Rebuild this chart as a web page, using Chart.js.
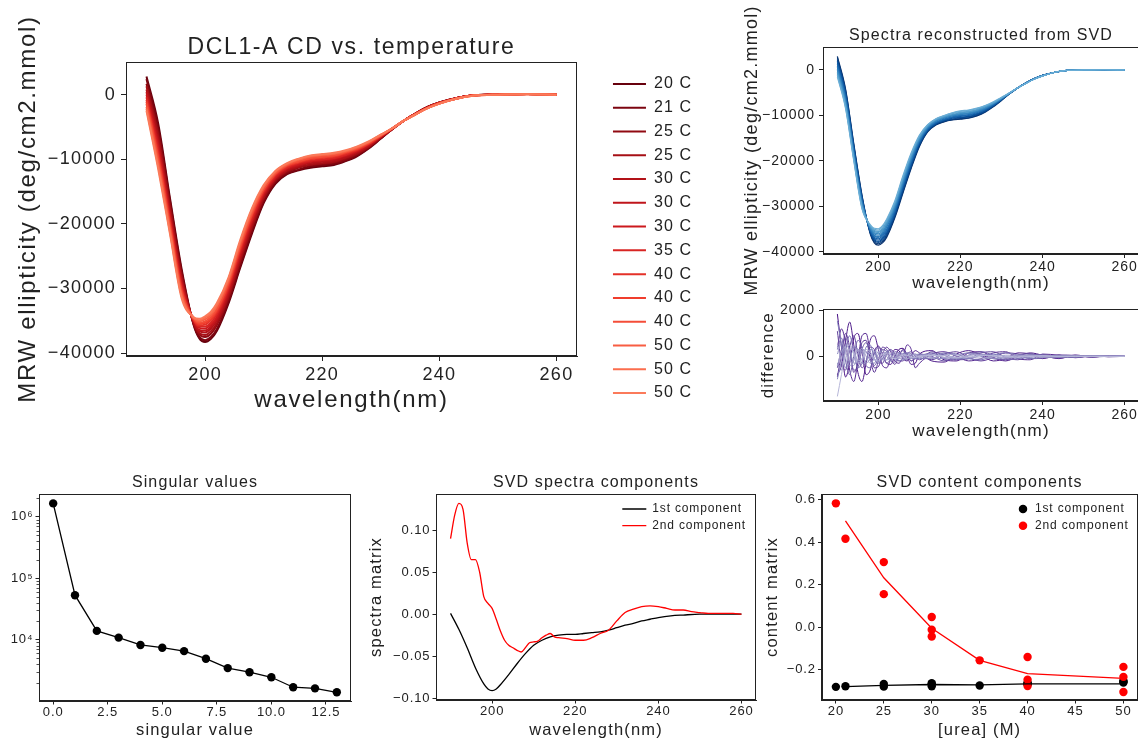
<!DOCTYPE html>
<html lang="en">
<head>
<meta charset="utf-8">
<title>DCL1-A CD vs. temperature</title>
<script src="https://cdn.jsdelivr.net/npm/chart.js@4.4.1/dist/chart.umd.min.js"></script>
<style>
  html, body { margin: 0; padding: 0; background: #ffffff; }
  body { position: relative; width: 1138px; height: 739px; overflow: hidden; }
  canvas { position: absolute; }
</style>
</head>
<body>
<canvas id="cdTemperature"></canvas>
<canvas id="svdReconstruction"></canvas>
<canvas id="svdResidual"></canvas>
<canvas id="singularValues"></canvas>
<canvas id="spectraComponents"></canvas>
<canvas id="contentComponents"></canvas>
<script>
// ---------------- data ----------------
const wavelengths = [190,192,194,196,198,199,200,201,202,204,206,208,210,212,214,216,218,220,222,224,226,228,230,232,234,236,238,240,243,246,250,255,260];
const temperatures = [20,21,25,25,30,30,30,35,40,40,40,50,50,50];

// measured mean-residue-weight ellipticity, one row per temperature
const measuredSpectra = [
  [2800,-4500,-16000,-27000,-35500,-37700,-38300,-37800,-36600,-32300,-26800,-21500,-16800,-13800,-12300,-11700,-11300,-11100,-10900,-10300,-9500,-8300,-6800,-5300,-4000,-2900,-1900,-1200,-500,-100,50,100,0],
  [2400,-5100,-16400,-27400,-35400,-37500,-38000,-37500,-36300,-32000,-26500,-21200,-16600,-13600,-12200,-11600,-11100,-10900,-10700,-10200,-9400,-8200,-6800,-5300,-4000,-2900,-1900,-1200,-500,-100,50,100,0],
  [1700,-5900,-17100,-27900,-35300,-37100,-37500,-37000,-35700,-31500,-25900,-20700,-16200,-13400,-12000,-11300,-10900,-10700,-10500,-10000,-9200,-8100,-6700,-5300,-4000,-2900,-1900,-1200,-500,-100,50,100,0],
  [1300,-6500,-17500,-28300,-35200,-36900,-37200,-36600,-35400,-31200,-25600,-20400,-16000,-13200,-11800,-11200,-10800,-10600,-10400,-9800,-9100,-8000,-6600,-5300,-4000,-2900,-1900,-1300,-500,-100,50,100,0],
  [800,-7200,-18100,-28700,-35100,-36600,-36800,-36200,-35000,-30800,-25200,-20000,-15700,-13000,-11700,-11000,-10600,-10400,-10200,-9700,-8900,-7900,-6600,-5300,-4000,-2900,-2000,-1300,-500,-100,0,100,0],
  [400,-7700,-18500,-29000,-35000,-36400,-36500,-35900,-34700,-30500,-24900,-19700,-15500,-12900,-11500,-10900,-10400,-10200,-10000,-9500,-8800,-7800,-6500,-5300,-4000,-2900,-2000,-1300,-500,-100,0,100,0],
  [0,-8100,-18900,-29300,-34900,-36100,-36200,-35600,-34400,-30200,-24600,-19500,-15300,-12800,-11400,-10800,-10300,-10100,-9900,-9400,-8700,-7700,-6500,-5200,-4000,-2900,-2000,-1300,-500,-100,0,100,0],
  [-400,-8700,-19300,-29700,-34800,-35900,-35900,-35300,-34000,-29900,-24200,-19200,-15100,-12600,-11300,-10600,-10200,-10000,-9800,-9300,-8600,-7600,-6400,-5200,-4000,-2900,-2000,-1300,-600,-100,0,100,0],
  [-800,-9300,-19700,-30100,-34800,-35700,-35600,-34900,-33700,-29600,-23900,-18800,-14900,-12400,-11100,-10500,-10000,-9800,-9600,-9100,-8500,-7600,-6400,-5200,-4000,-3000,-2000,-1300,-600,-100,0,100,0],
  [-1100,-9700,-20100,-30300,-34700,-35500,-35300,-34700,-33400,-29300,-23600,-18600,-14700,-12300,-11000,-10400,-9900,-9700,-9500,-9000,-8400,-7500,-6400,-5200,-4000,-3000,-2000,-1300,-600,-100,0,100,0],
  [-1400,-10100,-20400,-30600,-34600,-35300,-35100,-34400,-33200,-29100,-23400,-18400,-14600,-12200,-10900,-10300,-9800,-9600,-9400,-8900,-8300,-7400,-6300,-5200,-4000,-3000,-2100,-1400,-600,-100,0,100,0],
  [-1900,-10700,-20800,-31000,-34500,-35100,-34800,-34100,-32800,-28800,-23000,-18100,-14300,-12000,-10800,-10100,-9600,-9400,-9200,-8800,-8200,-7300,-6300,-5200,-4000,-3000,-2100,-1400,-600,-150,0,50,0],
  [-2200,-11100,-21200,-31200,-34500,-34900,-34500,-33900,-32600,-28500,-22800,-17800,-14200,-11900,-10700,-10000,-9500,-9300,-9100,-8700,-8100,-7300,-6200,-5200,-4000,-3000,-2100,-1400,-600,-150,0,50,0],
  [-2500,-11500,-21500,-31500,-34400,-34700,-34300,-33600,-32300,-28300,-22500,-17600,-14000,-11800,-10600,-9900,-9400,-9200,-9000,-8600,-8000,-7200,-6200,-5200,-4000,-3000,-2100,-1400,-600,-150,0,50,0]
];

// spectra rebuilt from the first two SVD components
const reconstructedSpectra = [
  [3000,-4200,-16200,-27500,-36000,-38000,-38500,-38000,-36800,-32500,-27000,-21600,-16800,-13600,-12100,-11400,-11000,-10800,-10600,-10100,-9300,-8100,-6700,-5200,-3900,-2800,-1900,-1200,-500,-100,0,50,0],
  [2700,-4500,-16500,-27700,-35800,-37800,-38200,-37700,-36500,-32200,-26700,-21300,-16600,-13500,-12000,-11300,-10900,-10700,-10500,-10000,-9200,-8000,-6600,-5200,-3900,-2800,-1900,-1200,-500,-100,0,50,0],
  [2300,-4900,-16800,-28000,-35700,-37500,-37900,-37400,-36200,-31900,-26400,-21100,-16400,-13400,-11900,-11200,-10800,-10500,-10300,-9800,-9100,-7900,-6600,-5200,-3900,-2800,-1900,-1200,-500,-100,0,50,0],
  [2000,-5200,-17100,-28200,-35500,-37300,-37700,-37100,-35900,-31600,-26100,-20800,-16200,-13200,-11800,-11100,-10600,-10400,-10200,-9700,-9000,-7800,-6500,-5200,-3900,-2800,-1900,-1200,-500,-100,0,50,0],
  [1600,-5500,-17400,-28400,-35400,-37000,-37400,-36800,-35600,-31400,-25800,-20600,-16000,-13100,-11700,-11000,-10500,-10200,-10000,-9600,-8800,-7800,-6500,-5100,-3900,-2800,-1900,-1200,-500,-100,0,50,0],
  [1300,-5900,-17700,-28700,-35200,-36800,-37100,-36500,-35300,-31100,-25500,-20300,-15800,-13000,-11600,-10900,-10400,-10100,-9900,-9400,-8700,-7700,-6400,-5100,-3900,-2800,-1900,-1200,-500,-100,0,50,0],
  [900,-6200,-18000,-28900,-35100,-36500,-36800,-36200,-35000,-30800,-25200,-20000,-15600,-12900,-11500,-10800,-10300,-10000,-9800,-9300,-8600,-7600,-6400,-5100,-3900,-2800,-1900,-1200,-500,-100,0,50,0],
  [600,-6500,-18200,-29100,-34900,-36300,-36600,-36000,-34600,-30500,-25000,-19800,-15500,-12700,-11300,-10600,-10100,-9800,-9600,-9200,-8500,-7500,-6300,-5100,-3900,-2900,-2000,-1300,-500,-100,0,50,0],
  [200,-6800,-18500,-29300,-34800,-36000,-36300,-35700,-34300,-30200,-24700,-19500,-15300,-12600,-11200,-10500,-10000,-9700,-9500,-9100,-8400,-7400,-6300,-5100,-3900,-2900,-2000,-1300,-500,-100,0,50,0],
  [-100,-7200,-18800,-29600,-34600,-35800,-36000,-35400,-34000,-29900,-24400,-19200,-15100,-12500,-11100,-10400,-9900,-9600,-9400,-8900,-8300,-7300,-6200,-5100,-3900,-2900,-2000,-1300,-500,-100,0,50,0],
  [-500,-7500,-19100,-29800,-34500,-35500,-35700,-35100,-33700,-29700,-24100,-19000,-14900,-12400,-11000,-10300,-9800,-9400,-9200,-8800,-8100,-7300,-6200,-5000,-3900,-2900,-2000,-1300,-500,-100,0,50,0],
  [-800,-7800,-19400,-30000,-34300,-35300,-35500,-34800,-33400,-29400,-23800,-18700,-14700,-12200,-10900,-10200,-9600,-9300,-9100,-8700,-8000,-7200,-6100,-5000,-3900,-2900,-2000,-1300,-500,-100,0,50,0],
  [-1200,-8200,-19700,-30300,-34200,-35000,-35200,-34500,-33100,-29100,-23500,-18500,-14500,-12100,-10800,-10100,-9500,-9100,-8900,-8500,-7900,-7100,-6100,-5000,-3900,-2900,-2000,-1300,-500,-100,0,50,0],
  [-1500,-8500,-20000,-30500,-34000,-34800,-34900,-34200,-32800,-28800,-23200,-18200,-14300,-12000,-10700,-10000,-9400,-9000,-8800,-8400,-7800,-7000,-6000,-5000,-3900,-2900,-2000,-1300,-500,-100,0,50,0]
];

// measured minus reconstructed
const residualWavelengths = [190,191,192,193,194,195,196,197,198,199,200,201,202,203,204,205,206,207,208,209,210,213,216,219,222,225,228,231,234,237,240,244,248,252,256,260];
const residualSpectra = [
  [1850,400,-900,-300,800,1000,200,-800,-600,200,450,100,-300,-350,0,300,350,0,-350,-300,100,250,-150,-200,150,200,-50,-200,0,150,50,-100,60,-40,30,0],
  [-800,-400,700,1500,500,-700,-1100,-300,700,900,300,-400,-500,-100,300,250,-100,-200,50,250,150,-200,-250,100,250,50,-200,-100,150,100,-100,50,-60,30,-20,0],
  [400,1200,600,-600,-1100,-200,900,1000,200,-500,-450,100,400,200,-200,-300,0,500,300,-500,-300,100,200,0,-200,-100,150,200,-100,-150,100,50,-40,0,20,0],
  [-900,100,1000,400,-700,-300,600,700,-100,-700,-200,400,300,-100,-350,0,300,100,-200,-100,50,-150,100,200,-50,-200,-50,150,100,-100,-80,60,40,-30,0,0],
  [1100,-300,-600,400,900,100,-500,-200,400,300,-200,-300,100,300,100,-200,-200,100,200,0,-150,200,50,-150,-100,150,200,-50,-150,50,80,-50,30,20,-10,0],
  [-500,300,800,200,-600,-500,300,600,100,-400,-100,300,200,-200,-250,100,250,0,-200,-50,100,0,-200,-50,150,100,-100,-150,50,120,0,-70,30,0,10,0],
  [300,800,-200,-800,0,700,400,-400,-500,100,400,100,-300,-100,200,150,-100,-150,50,100,50,150,-100,-150,50,200,50,-150,-100,80,60,-30,-50,30,0,0],
  [-300,-600,300,900,200,-500,-300,400,500,-100,-300,-100,200,250,0,-200,-100,150,100,-100,-100,-100,150,100,-100,-150,50,150,50,-100,-60,40,20,-20,10,0],
  [1550,500,-500,-200,400,300,-300,-200,300,200,-200,-100,200,100,-150,-100,100,150,-50,-100,0,100,100,-100,-100,50,100,0,-80,-50,40,30,-20,10,0,0],
  [-1000,-200,500,300,-300,-200,300,200,-200,-300,100,250,0,-200,-50,150,100,-100,-100,50,100,-50,-100,50,150,0,-100,-50,50,60,-20,-40,20,0,0,0],
  [100,600,200,-400,-200,300,200,-300,-100,200,150,-150,-150,100,150,-50,-150,0,100,50,-50,50,-50,-100,50,100,0,-80,-30,50,30,-20,0,10,0,0],
  [-400,200,400,-100,-400,100,350,0,-300,-100,200,100,-150,-100,100,100,-50,-100,0,80,30,-80,50,80,-30,-80,-30,50,50,-20,-40,10,20,0,0,0],
  [500,-200,-300,300,200,-200,-100,200,100,-150,-100,100,100,-50,-100,0,80,50,-50,-50,20,60,-40,-60,40,60,0,-40,-20,30,20,-10,0,0,0,0],
  [-1750,-800,200,500,100,-300,-100,300,200,-100,-200,0,150,50,-100,-50,50,50,-30,-40,0,40,30,-40,-30,30,40,0,-30,-10,20,0,-10,0,0,0]
];

const singularIndex = [0,1,2,3,4,5,6,7,8,9,10,11,12,13];
const singularValues = [1660000,53000,13900,10800,8200,7400,6500,4900,3440,2950,2440,1680,1610,1390];

// first SVD spectrum sampled on `wavelengths`, second on its own finer grid
const firstComponent = [0.001,-0.018,-0.040,-0.064,-0.083,-0.089,-0.091,-0.089,-0.084,-0.072,-0.059,-0.047,-0.037,-0.031,-0.027,-0.025,-0.024,-0.024,-0.023,-0.022,-0.021,-0.019,-0.016,-0.013,-0.011,-0.008,-0.006,-0.004,-0.002,-0.001,0,0,0];
const componentWavelengths = [190,191,192,193,194,195,196,197,198,199,200,201,202,203,204,205,206,207,208,209,210,211,212,213,214,215,216,218,220,222,224,226,228,230,232,234,236,238,240,242,244,246,248,250,252,254,256,258,260];
const secondComponent = [0.090,0.118,0.132,0.125,0.085,0.065,0.065,0.050,0.021,0.013,0.007,-0.006,-0.020,-0.031,-0.037,-0.040,-0.043,-0.045,-0.040,-0.034,-0.033,-0.032,-0.028,-0.025,-0.023,-0.027,-0.028,-0.029,-0.031,-0.031,-0.028,-0.023,-0.019,-0.008,0.002,0.006,0.009,0.010,0.009,0.007,0.005,0.005,0.003,0.002,0.001,0.001,0.001,0.001,0.0];

// content (temperature) vectors and their trend lines
const firstContent = [-0.282,-0.279,-0.268,-0.281,-0.265,-0.270,-0.279,-0.276,-0.262,-0.268,-0.270,-0.254,-0.258,-0.262];
const secondContent = [0.583,0.416,0.306,0.155,0.047,-0.013,-0.045,-0.157,-0.141,-0.248,-0.278,-0.188,-0.235,-0.306];
const fitTemperatures = [21,25,30,35,40,50];
const firstContentFit = [-0.281,-0.275,-0.271,-0.273,-0.268,-0.268];
const secondContentFit = [0.500,0.232,-0.006,-0.157,-0.220,-0.242];

// tick values
const wavelengthTicks = [200,220,240,260];
const ellipticityTicks = [-40000,-30000,-20000,-10000,0];
const residualTicks = [0,2000];
const singularIndexTicks = [0,2.5,5,7.5,10,12.5];
const singularValueTicks = [1e4,1e5,1e6];
const singularMinorTicks = [2e3,3e3,4e3,5e3,6e3,7e3,8e3,9e3,2e4,3e4,4e4,5e4,6e4,7e4,8e4,9e4,2e5,3e5,4e5,5e5,6e5,7e5,8e5,9e5,2e6];
const componentTicks = [-0.1,-0.05,0,0.05,0.1];
const ureaTicks = [20,25,30,35,40,45,50];
const contentTicks = [-0.2,0,0.2,0.4,0.6];

// ---------------- styling ----------------
const INK = '#222222';
const redShades = ['#67000d','#7c0510','#910a12','#a60f15','#b21218','#bf151b','#cc191d','#d82523','#e43128','#f03d2d','#f44d38','#f85d42','#fb6d4d','#fb7a5a'];
const blueShades = ['#08306b','#083a7a','#084489','#084e98','#0e58a2','#1662aa','#1d6cb1','#2676b8','#3080bd','#3a8ac2','#4594c7','#529dcc','#5fa6d1','#6baed6'];
const purpleShades = ['#470f84','#4f1d8a','#562a91','#5d3897','#65479e','#6c55a5','#7464ad','#7b73b5','#8380bc','#8d8ac0','#9894c5','#a29eca','#acaad1','#b6b6d8'];

Chart.defaults.font.family = "'Liberation Sans', Arial, Helvetica, sans-serif";
Chart.defaults.font.size = 13;
Chart.defaults.color = INK;

const MINUS = '\u2212';
const SUPERSCRIPT = '\u2070\u00b9\u00b2\u00b3\u2074\u2075\u2076\u2077\u2078\u2079';
const fixed = d => v => (v < 0 ? MINUS : '') + Math.abs(v).toFixed(d);
const powerOfTen = v => '10' + String(Math.round(Math.log10(v))).split('').map(c => SUPERSCRIPT[+c]).join('');
const pts = (xs, ys) => xs.map((x, i) => ({ x, y: ys[i] }));

// slightly open letter spacing, proportional to the font size in use
function tracking(ctx, em) {
  const fill = ctx.fillText.bind(ctx);
  const measure = ctx.measureText.bind(ctx);
  const apply = () => {
    const m = /(\d+(?:\.\d+)?)px/.exec(ctx.font);
    ctx.letterSpacing = m ? (parseFloat(m[1]) * em).toFixed(2) + 'px' : '0px';
  };
  ctx.fillText = (...a) => { apply(); return fill(...a); };
  ctx.measureText = (t) => { apply(); return measure(t); };
}

// closed box round the plot area
const framePlugin = {
  id: 'frame',
  afterDatasetsDraw(chart) {
    const { ctx, chartArea: a } = chart;
    ctx.save();
    ctx.strokeStyle = INK;
    ctx.lineWidth = 1;
    const l = Math.round(a.left) + 0.5, t = Math.round(a.top) + 0.5;
    const r = Math.round(a.right) - 0.5, b = Math.round(a.bottom) - 0.5;
    ctx.strokeRect(l, t, r - l, b - t);
    ctx.restore();
  }
};

// puts a 'chartArea' legend at a chosen spot of its canvas
const legendSpot = {
  id: 'legendSpot',
  afterLayout(chart, args, opts) {
    const lg = chart.legend;
    if (!lg || opts.x === undefined) return;
    lg.left = opts.x; lg.top = opts.y;
    lg.right = opts.x + opts.w; lg.bottom = opts.y + opts.h;
    lg.width = opts.w; lg.height = opts.h;
  }
};

// short unlabelled ticks between the decades of the log axis
const minorLogTicks = {
  id: 'minorLogTicks',
  afterDatasetsDraw(chart, args, opts) {
    if (!opts.values) return;
    const { ctx, chartArea: a } = chart;
    const s = chart.scales.y;
    ctx.save();
    ctx.strokeStyle = INK;
    ctx.lineWidth = 0.8;
    ctx.beginPath();
    opts.values.forEach(v => {
      const y = Math.round(s.getPixelForValue(v)) + 0.5;
      ctx.moveTo(a.left - 2.5, y);
      ctx.lineTo(a.left, y);
    });
    ctx.stroke();
    ctx.restore();
  }
};

function axis(o) {
  const horizontal = o.position === 'bottom';
  return {
    type: o.type || 'linear',
    position: o.position,
    min: o.min,
    max: o.max,
    afterBuildTicks: s => { s.ticks = o.ticks.map(v => ({ value: v })); },
    afterFit: s => { if (horizontal) s.height = o.size; else s.width = o.size; },
    grid: { drawOnChartArea: false, drawTicks: true, tickLength: o.tickLength, tickColor: INK, tickWidth: 1, color: INK },
    border: { display: true, color: INK, width: 1 },
    ticks: { autoSkip: false, maxRotation: 0, minRotation: 0, padding: o.tickPadding, color: INK, font: { size: o.tickSize }, callback: o.format },
    title: o.title
      ? { display: true, text: o.title, color: INK, font: { size: o.titleSize }, padding: o.titlePadding }
      : { display: false }
  };
}

function build(id, box, config) {
  const canvas = document.getElementById(id);
  canvas.width = box.w;
  canvas.height = box.h;
  canvas.style.left = box.x + 'px';
  canvas.style.top = box.y + 'px';
  tracking(canvas.getContext('2d'), 0.07);
  config.options = Object.assign({
    responsive: false,
    animation: false,
    devicePixelRatio: 1,
    events: []
  }, config.options);
  config.plugins = [framePlugin, legendSpot, minorLogTicks];
  return new Chart(canvas, config);
}

function titleOpts(text, size, top, bottom) {
  return { display: true, text, color: INK, fullSize: false, font: { size, weight: 'normal' }, padding: { top, bottom } };
}

const byIndex = (a, b) => a.datasetIndex - b.datasetIndex;

// ---------------- CD spectra vs temperature ----------------
build('cdTemperature', { x: 0, y: 0, w: 700, h: 416 }, {
  type: 'line',
  data: {
    datasets: measuredSpectra.map((ys, i) => ({
      label: temperatures[i] + ' C',
      data: pts(wavelengths, ys),
      borderColor: redShades[i],
      backgroundColor: redShades[i],
      borderWidth: 2,
      pointRadius: 0,
      pointBorderWidth: 2,
      pointBorderColor: redShades[i],
      cubicInterpolationMode: 'monotone',
      order: measuredSpectra.length - i
    }))
  },
  options: {
    layout: { padding: { left: 0, top: 0, right: 123, bottom: 0 } },
    scales: {
      x: axis({ position: 'bottom', min: 186.5, max: 263.5, ticks: wavelengthTicks, size: 60, tickLength: 5, tickPadding: 3, tickSize: 18,
                format: fixed(0), title: 'wavelength(nm)', titleSize: 24, titlePadding: { top: 0, bottom: 1.6 } }),
      y: axis({ position: 'left', min: -40450, max: 5050, ticks: ellipticityTicks, size: 126, tickLength: 5, tickPadding: 5, tickSize: 18,
                format: fixed(0), title: 'MRW ellipticity (deg/cm2.mmol)', titleSize: 24, titlePadding: { top: 13.6, bottom: 0 } })
    },
    plugins: {
      tooltip: { enabled: false },
      title: titleOpts('DCL1-A CD vs. temperature', 23, 34.2, 0.2),
      legend: {
        display: true, position: 'chartArea', align: 'start',
        labels: { usePointStyle: true, pointStyle: 'line', pointStyleWidth: 33, color: INK, font: { size: 16 }, padding: 7.77, sort: byIndex }
      },
      legendSpot: { x: 605.2, y: 68.2, w: 130, h: 360 }
    }
  }
});

// ---------------- spectra reconstructed from SVD ----------------
build('svdReconstruction', { x: 740, y: 0, w: 401, h: 294 }, {
  type: 'line',
  data: {
    datasets: reconstructedSpectra.map((ys, i) => ({
      label: temperatures[i] + ' C',
      data: pts(wavelengths, ys),
      borderColor: blueShades[i],
      borderWidth: 1.2,
      pointRadius: 0,
      cubicInterpolationMode: 'monotone',
      order: reconstructedSpectra.length - i
    }))
  },
  options: {
    layout: { padding: { left: 0, top: 0, right: 2, bottom: 0 } },
    scales: {
      x: axis({ position: 'bottom', min: 186.5, max: 263.5, ticks: wavelengthTicks, size: 40, tickLength: 4, tickPadding: 1, tickSize: 14,
                format: fixed(0), title: 'wavelength(nm)', titleSize: 17, titlePadding: { top: 0, bottom: 0.3 } }),
      y: axis({ position: 'left', min: -40450, max: 5050, ticks: ellipticityTicks, size: 83, tickLength: 4, tickPadding: 4, tickSize: 14,
                format: fixed(0), title: 'MRW ellipticity (deg/cm2.mmol)', titleSize: 18, titlePadding: { top: 1.7, bottom: 0 } })
    },
    plugins: {
      tooltip: { enabled: false },
      legend: { display: false },
      title: titleOpts('Spectra reconstructed from SVD', 16, 25.9, 1.9)
    }
  }
});

// ---------------- residual of the reconstruction ----------------
build('svdResidual', { x: 740, y: 297, w: 401, h: 149 }, {
  type: 'line',
  data: {
    datasets: residualSpectra.map((ys, i) => ({
      label: temperatures[i] + ' C',
      data: pts(residualWavelengths, ys),
      borderColor: purpleShades[i],
      borderWidth: 1,
      pointRadius: 0,
      cubicInterpolationMode: 'monotone',
      order: residualSpectra.length - i
    }))
  },
  options: {
    layout: { padding: { left: 0, top: 10, right: 2, bottom: 0 } },
    scales: {
      x: axis({ position: 'bottom', min: 186.5, max: 263.5, ticks: wavelengthTicks, size: 45, tickLength: 4, tickPadding: 1.5, tickSize: 14,
                format: fixed(0), title: 'wavelength(nm)', titleSize: 17, titlePadding: { top: 0, bottom: 4.6 } }),
      y: axis({ position: 'left', min: -1950, max: 2050, ticks: residualTicks, size: 83, tickLength: 4, tickPadding: 4, tickSize: 14,
                format: fixed(0), title: 'difference', titleSize: 17, titlePadding: { top: 18.6, bottom: 0 } })
    },
    plugins: { tooltip: { enabled: false }, legend: { display: false }, title: { display: false } }
  }
});

// ---------------- singular values ----------------
build('singularValues', { x: 0, y: 460, w: 356, h: 280 }, {
  type: 'line',
  data: {
    datasets: [{
      label: 'singular values',
      data: pts(singularIndex, singularValues),
      borderColor: '#000000',
      backgroundColor: '#000000',
      borderWidth: 1.3,
      pointRadius: 4.2,
      pointBackgroundColor: '#000000',
      pointBorderWidth: 0,
      tension: 0
    }]
  },
  options: {
    layout: { padding: { left: 0, top: 0, right: 5, bottom: 0 } },
    scales: {
      x: axis({ position: 'bottom', min: -0.65, max: 13.65, ticks: singularIndexTicks, size: 39, tickLength: 3.5, tickPadding: 0.5, tickSize: 13,
                format: fixed(1), title: 'singular value', titleSize: 16.5, titlePadding: { top: 0, bottom: 0.1 } }),
      y: axis({ type: 'logarithmic', position: 'left', min: 1002, max: 2360000, ticks: singularValueTicks, size: 39, tickLength: 3.5, tickPadding: 2, tickSize: 13,
                format: powerOfTen })
    },
    plugins: {
      tooltip: { enabled: false },
      legend: { display: false },
      title: titleOpts('Singular values', 16, 12.5, 2.3),
      minorLogTicks: { values: singularMinorTicks }
    }
  }
});

// ---------------- SVD spectra components ----------------
build('spectraComponents', { x: 365, y: 460, w: 395, h: 280 }, {
  type: 'line',
  data: {
    datasets: [
      { label: '1st component', data: pts(wavelengths, firstComponent), borderColor: '#000000', pointBorderColor: '#000000',
        borderWidth: 1.3, pointBorderWidth: 1.3, pointRadius: 0, cubicInterpolationMode: 'monotone', order: 1 },
      { label: '2nd component', data: pts(componentWavelengths, secondComponent), borderColor: '#ff0000', pointBorderColor: '#ff0000',
        borderWidth: 1.3, pointBorderWidth: 1.3, pointRadius: 0, cubicInterpolationMode: 'monotone', order: 0 }
    ]
  },
  options: {
    layout: { padding: { left: 0, top: 0, right: 4, bottom: 0 } },
    scales: {
      x: axis({ position: 'bottom', min: 186.5, max: 263.5, ticks: wavelengthTicks, size: 40, tickLength: 3.5, tickPadding: 0.5, tickSize: 13,
                format: fixed(0), title: 'wavelength(nm)', titleSize: 16.5, titlePadding: { top: 0, bottom: 0.1 } }),
      y: axis({ position: 'left', min: -0.1022, max: 0.1432, ticks: componentTicks, size: 71, tickLength: 3.5, tickPadding: 2, tickSize: 13,
                format: fixed(2), title: 'spectra matrix', titleSize: 16.5, titlePadding: { top: 1.6, bottom: 0 } })
    },
    plugins: {
      tooltip: { enabled: false },
      title: titleOpts('SVD spectra components', 16, 12.5, 2.3),
      legend: {
        display: true, position: 'chartArea', align: 'start',
        labels: { usePointStyle: true, pointStyle: 'line', pointStyleWidth: 24, color: INK, font: { size: 12 }, padding: 4.7, sort: byIndex }
      },
      legendSpot: { x: 252.6, y: 38.3, w: 140, h: 60 }
    }
  }
});

// ---------------- SVD content components ----------------
build('contentComponents', { x: 760, y: 460, w: 382, h: 280 }, {
  type: 'line',
  data: {
    datasets: [
      { label: '1st component', data: pts(temperatures, firstContent), showLine: false, pointRadius: 4.2, pointBorderWidth: 0,
        pointBackgroundColor: '#000000', backgroundColor: '#000000', borderColor: '#000000', order: 3 },
      { label: '2nd component', data: pts(temperatures, secondContent), showLine: false, pointRadius: 4.2, pointBorderWidth: 0,
        pointBackgroundColor: '#ff0000', backgroundColor: '#ff0000', borderColor: '#ff0000', order: 2 },
      { label: '1st trend', data: pts(fitTemperatures, firstContentFit), borderColor: '#000000', borderWidth: 1.3, pointRadius: 0, tension: 0, order: 1 },
      { label: '2nd trend', data: pts(fitTemperatures, secondContentFit), borderColor: '#ff0000', borderWidth: 1.3, pointRadius: 0, tension: 0, order: 0 }
    ]
  },
  options: {
    layout: { padding: { left: 0, top: 0, right: 1.5, bottom: 0 } },
    scales: {
      x: axis({ position: 'bottom', min: 18.5, max: 51.5, ticks: ureaTicks, size: 40, tickLength: 3.5, tickPadding: 0.5, tickSize: 13,
                format: fixed(0), title: '[urea] (M)', titleSize: 16.5, titlePadding: { top: 0, bottom: 0.1 } }),
      y: axis({ position: 'left', min: -0.344, max: 0.627, ticks: contentTicks, size: 61.5, tickLength: 3.5, tickPadding: 2, tickSize: 13,
                format: fixed(1), title: 'content matrix', titleSize: 16.5, titlePadding: { top: 2.1, bottom: 0 } })
    },
    plugins: {
      tooltip: { enabled: false },
      title: titleOpts('SVD content components', 16, 12.5, 2.3),
      legend: {
        display: true, position: 'chartArea', align: 'start',
        labels: { usePointStyle: true, boxWidth: 12, boxHeight: 6, color: INK, font: { size: 12 }, padding: 4.7,
                  sort: byIndex, filter: item => item.datasetIndex < 2 }
      },
      legendSpot: { x: 252.3, y: 38.3, w: 140, h: 60 }
    }
  }
});
</script>
</body>
</html>
